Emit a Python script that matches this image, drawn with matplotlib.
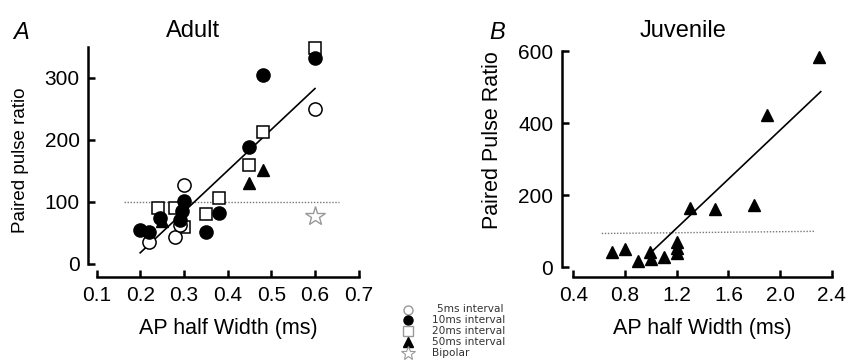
import matplotlib
matplotlib.use("Agg")
import matplotlib.pyplot as plt

plt.rcParams['font.family'] = ['Liberation Sans', 'DejaVu Sans']

# ---------------- data: Adult (panel A) ----------------
adult_5ms_x = [0.22, 0.28, 0.29, 0.30, 0.60]
adult_5ms_y = [36, 44, 63, 127, 250]
adult_10ms_x = [0.20, 0.22, 0.245, 0.29, 0.295, 0.30, 0.35, 0.38, 0.45, 0.48, 0.60]
adult_10ms_y = [55, 52, 74, 71, 85, 101, 52, 83, 189, 305, 332]
adult_20ms_x = [0.24, 0.28, 0.30, 0.35, 0.38, 0.45, 0.48, 0.60]
adult_20ms_y = [90, 90, 60, 80, 107, 160, 213, 348]
adult_50ms_x = [0.25, 0.29, 0.45, 0.48]
adult_50ms_y = [70, 80, 130, 152]
adult_bipolar_x = [0.60]
adult_bipolar_y = [78]
adult_fit_x = [0.20, 0.60]
adult_fit_y = [18, 283]
adult_ref_x = [0.162, 0.654]
adult_ref_y = [100, 100]
adult_xticks = [0.1, 0.2, 0.3, 0.4, 0.5, 0.6, 0.7]
adult_xticklabels = ["0.1", "0.2", "0.3", "0.4", "0.5", "0.6", "0.7"]
adult_yticks = [0, 100, 200, 300]

# ---------------- data: Juvenile (panel B) ----------------
juv_x = [0.70, 0.80, 0.90, 0.99, 1.00, 1.10, 1.20, 1.20, 1.20, 1.30, 1.50, 1.80, 1.90, 2.30]
juv_y = [43, 50, 18, 43, 22, 29, 40, 55, 70, 166, 162, 173, 423, 585]
juv_fit_x = [0.994, 2.315]
juv_fit_y = [39, 488]
juv_ref_x = [0.62, 2.27]
juv_ref_y = [94, 100]
juv_xticks = [0.4, 0.8, 1.2, 1.6, 2.0, 2.4]
juv_xticklabels = ["0.4", "0.8", "1.2", "1.6", "2.0", "2.4"]
juv_yticks = [0, 200, 400, 600]

legend_labels = ["5ms interval", "10ms interval", "20ms interval", "50ms interval", "Bipolar"]

W, H = 849, 361
fig = plt.figure(figsize=(W / 100, H / 100), dpi=100)


def px_rect(x0, y0, x1, y1):
    return [x0 / W, (H - y1) / H, (x1 - x0) / W, (y1 - y0) / H]


def style_axes(ax, xb, yb):
    for s in ("top", "right"):
        ax.spines[s].set_visible(False)
    for s in ("left", "bottom"):
        ax.spines[s].set_linewidth(1.8)
    ax.spines["left"].set_bounds(*yb)
    ax.spines["bottom"].set_bounds(*xb)
    ax.tick_params(direction="in", length=5, width=1.8, labelsize=15)
    ax.tick_params(axis="y", pad=6)
    ax.tick_params(axis="x", pad=6.5)
    ax.patch.set_alpha(0)


ms = 9
lw_m = 1.1

# ---------------- Panel A ----------------
axA = fig.add_axes(px_rect(88, 47, 367.4, 277))
axA.set_xlim(0.0805, 0.72)
axA.set_ylim(-21, 350)
axA.plot(adult_ref_x, adult_ref_y, linestyle=(0, (1, 1.2)), color="#777777", lw=1.0, zorder=1)
axA.plot(adult_fit_x, adult_fit_y, color="black", lw=1.2, zorder=2)
axA.plot(adult_20ms_x, adult_20ms_y, "s", ms=ms, mfc="white", mec="black", mew=lw_m, zorder=3, clip_on=False)
axA.plot(adult_5ms_x, adult_5ms_y, "o", ms=ms + 0.5, mfc="white", mec="black", mew=lw_m, zorder=4, clip_on=False)
axA.plot(adult_10ms_x, adult_10ms_y, "o", ms=ms + 0.5, mfc="black", mec="black", zorder=5, clip_on=False)
axA.plot(adult_50ms_x, adult_50ms_y, "^", ms=ms, mfc="black", mec="black", zorder=6, clip_on=False)
axA.plot(adult_bipolar_x, adult_bipolar_y, "*", ms=15, mfc="white", mec="#999999", mew=1.0, zorder=6, clip_on=False)
axA.set_xticks(adult_xticks)
axA.set_xticklabels(adult_xticklabels)
axA.set_yticks(adult_yticks)
style_axes(axA, (0.1, 0.7), (0, 350))

# ---------------- Panel B ----------------
axB = fig.add_axes(px_rect(561.7, 47.7, 838.2, 276.7))
axB.set_xlim(0.31, 2.45)
axB.set_ylim(-26, 610)
axB.plot(juv_ref_x, juv_ref_y, linestyle=(0, (1, 1.2)), color="#777777", lw=1.0, zorder=1)
axB.plot(juv_fit_x, juv_fit_y, color="black", lw=1.2, zorder=2)
axB.plot(juv_x, juv_y, "^", ms=ms, mfc="black", mec="black", zorder=5, clip_on=False)
axB.set_xticks(juv_xticks)
axB.set_xticklabels(juv_xticklabels)
axB.set_yticks(juv_yticks)
style_axes(axB, (0.4, 2.4), (0, 600))

# ---------------- Texts ----------------
def ftext(x, y, s, **kw):
    fig.text(x / W, (H - y) / H, s, **kw)

ftext(193, 37, "Adult", fontsize=17, ha="center", va="baseline")
ftext(683, 37, "Juvenile", fontsize=17, ha="center", va="baseline")
ftext(13, 39, "A", fontsize=17, style="italic", ha="left", va="baseline")
ftext(489, 39, "B", fontsize=17, style="italic", ha="left", va="baseline")
ftext(228, 334, "AP half Width (ms)", fontsize=15.5, ha="center", va="baseline")
ftext(702, 334, "AP half Width (ms)", fontsize=15.5, ha="center", va="baseline")
ftext(21, 160, "Paired pulse ratio", fontsize=13.5, rotation=90, ha="center", va="center")
ftext(492, 140, "Paired Pulse Ratio", fontsize=15.5, rotation=90, ha="center", va="center")

# ---------------- Legend (manual, between panels) ----------------
lax = fig.add_axes([0, 0, 1, 1])
lax.set_xlim(0, W)
lax.set_ylim(H, 0)
lax.axis("off")
leg_styles = [
    dict(marker="o", ms=6.5, mfc="white", mec="#999999", mew=1.0),
    dict(marker="o", ms=6.5, mfc="black", mec="black"),
    dict(marker="s", ms=6.5, mfc="white", mec="#999999", mew=1.0),
    dict(marker="^", ms=6.5, mfc="black", mec="black"),
    dict(marker="*", ms=10, mfc="white", mec="#999999", mew=0.8),
]
row0, dy = 309.5, 10.8
for i, (lab, st) in enumerate(zip(legend_labels, leg_styles)):
    yy = row0 + i * dy
    lax.plot([408], [yy], linestyle="none", **st)
    xoff = 437 if i == 0 else 432
    lax.text(xoff, yy, lab, fontsize=7.6, family="DejaVu Sans", color="#333333",
             ha="left", va="center")

fig.savefig("out.png", dpi=100)
